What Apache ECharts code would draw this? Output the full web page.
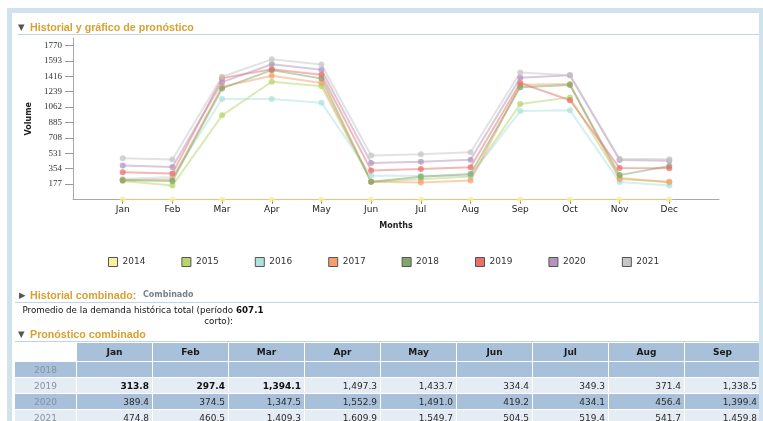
<!DOCTYPE html>
<html><head><meta charset="utf-8">
<script src="https://cdn.jsdelivr.net/npm/echarts@6/dist/echarts.min.js"></script>
<style>
html,body{margin:0;padding:0;width:763px;height:421px;overflow:hidden;background:#fff;font-family:'DejaVu Sans',Verdana,sans-serif;}
#frame{position:absolute;left:7px;top:8px;width:756px;height:420px;background:#cfe2ed;}
#panel{position:absolute;left:12px;top:13px;width:747px;height:408px;background:#fff;}
#chart{position:absolute;left:0;top:0;width:763px;height:421px;z-index:2;}
.h{position:absolute;font-family:'Liberation Sans',Arial,sans-serif;font-weight:bold;font-size:10.7px;color:#d9a032;white-space:nowrap;z-index:3;line-height:12px;}
.tri{position:absolute;font-size:8.5px;color:#555;z-index:3;line-height:10px;}
.rule{position:absolute;height:1px;background:#bfd5e7;z-index:3;}
.sub{position:absolute;font-size:8px;font-weight:bold;color:#75818d;white-space:nowrap;z-index:3;line-height:10px;}
.txt{position:absolute;font-size:8.7px;color:#111;white-space:nowrap;z-index:3;line-height:11px;text-align:right;}
#tblwrap{position:absolute;left:12px;top:342px;width:747px;height:79px;overflow:hidden;z-index:3;}
#tbl{border-collapse:separate;border-spacing:1px;table-layout:fixed;margin-left:2px;width:746px;font-size:9px;}
#tbl th,#tbl td{padding:0 3px;overflow:hidden;white-space:nowrap;}
#tbl th{height:18px;background:#a8c0d9;color:#1a1a1a;font-weight:bold;text-align:center;}
#tbl th.blank{background:#fff;}
#tbl td{height:15px;text-align:right;color:#2a2a2a;}
#tbl td.yr{text-align:center;color:#8593a2;}
#tbl tr.dark td{background:#a8c0d9;}
#tbl tr.light td{background:#e6ecf4;}
#tbl td.b{font-weight:bold;color:#111;}
</style>
</head><body>
<div id="frame"></div>
<div id="panel"></div>

<div class="tri" style="left:18px;top:22px;">▼</div>
<div class="h" style="left:30px;top:21px;">Historial y gráfico de pronóstico</div>
<div class="rule" style="left:18px;top:34px;width:741px;"></div>

<div class="tri" style="left:19px;top:290px;">▶</div>
<div class="h" style="left:30px;top:289px;">Historial combinado:</div>
<div class="sub" style="left:143px;top:290px;">Combinado</div>
<div class="rule" style="left:15px;top:302px;width:744px;"></div>
<div class="txt" style="right:530px;top:305px;">Promedio de la demanda histórica total (período<br>corto):</div>
<div class="txt" style="left:236px;top:305px;font-weight:bold;text-align:left;">607.1</div>

<div class="tri" style="left:18px;top:329px;">▼</div>
<div class="h" style="left:30px;top:328px;">Pronóstico combinado</div>
<div class="rule" style="left:15px;top:341px;width:744px;"></div>

<div id="tblwrap"><table id="tbl"></table></div>
<div id="chart"></div>

<script>
// ---- data ----
const months = ['Jan','Feb','Mar','Apr','May','Jun','Jul','Aug','Sep','Oct','Nov','Dec'];
const years = ['2014','2015','2016','2017','2018','2019','2020','2021'];
const colors = ['#f7f09c','#b7d66c','#aee0e0','#f5a06c','#7fa86a','#e8706a','#b494bc','#c6c6c6'];
const s2014 = [0,0,0,0,0,0,0,0,0,0,0,0];
const s2015 = [213,160,967,1353,1300,205,233,263,1096,1173,250,194];
const s2016 = [236,259,1154,1154,1112,274,274,274,1016,1024,202,160];
const s2017 = [225,233,1295,1421,1337,205,194,219,1318,1326,236,205];
const s2018 = [221,213,1276,1486,1391,205,260,292,1288,1314,280,385];
const s2019 = [313.8,297.4,1394.1,1497.3,1433.7,334.4,349.3,371.4,1338.5,1140,362,359];
const s2020 = [389.4,374.5,1347.5,1552.9,1491.0,419.2,434.1,456.4,1399.4,1426,454,446];
const s2021 = [474.8,460.5,1409.3,1609.9,1549.7,504.5,519.4,541.7,1459.8,1426,469,462];
const yTicks = [177,354,531,708,885,1062,1239,1416,1593,1770];

// table (Pronóstico combinado)
const tableCols = ['Jan','Feb','Mar','Apr','May','Jun','Jul','Aug','Sep'];
const tableYears = ['2018','2019','2020','2021'];
const t2018 = [];
const t2019 = [313.8,297.4,1394.1,1497.3,1433.7,334.4,349.3,371.4,1338.5];
const t2020 = [389.4,374.5,1347.5,1552.9,1491.0,419.2,434.1,456.4,1399.4];
const t2021 = [474.8,460.5,1409.3,1609.9,1549.7,504.5,519.4,541.7,1459.8];
const t2019Bold = 3;

// ---- table ----
(function(){
  const fmt = v => v.toLocaleString('en-US',{minimumFractionDigits:1,maximumFractionDigits:1});
  const rows = [t2018,t2019,t2020,t2021];
  let h = '<colgroup><col style="width:61px">' + tableCols.map(()=>'<col style="width:75px">').join('') + '</colgroup>';
  h += '<tr><th class="blank"></th>' + tableCols.map(c=>'<th>'+c+'</th>').join('') + '</tr>';
  rows.forEach((r,i)=>{
    h += '<tr class="'+(i%2===0?'dark':'light')+'"><td class="yr">'+tableYears[i]+'</td>';
    tableCols.forEach((c,j)=>{
      const v = r[j];
      const bold = (tableYears[i]==='2019' && j<t2019Bold) ? ' class="b"' : '';
      h += '<td'+bold+'>'+(v===undefined?'':fmt(v))+'</td>';
    });
    h += '</tr>';
  });
  document.getElementById('tbl').innerHTML = h;
})();

// ---- chart ----
const seriesData = [s2014,s2015,s2016,s2017,s2018,s2019,s2020,s2021];
const xCats = [''].concat(months).concat(['']);
const chart = echarts.init(document.getElementById('chart'), null, {renderer:'canvas'});
chart.setOption({
  animation:false,
  backgroundColor:'transparent',
  grid:{left:73, right:44, top:38, bottom:221.5, containLabel:false},
  legend:{
    top:252, left:103, itemWidth:9, itemHeight:9, itemGap:36, icon:'rect',
    textStyle:{fontSize:9, color:'#333', fontFamily:'DejaVu Sans'},
    itemStyle:{borderColor:'#555', borderWidth:1, opacity:1},
    data: years
  },
  xAxis:{
    type:'category', data:xCats, boundaryGap:false,
    axisLine:{show:true, lineStyle:{color:'#a8a8a8', width:1}},
    axisTick:{show:true, interval:(i)=> i>0 && i<13, length:4, lineStyle:{color:'#555'}},
    axisLabel:{interval:0, fontSize:9, color:'#222', margin:6, fontFamily:'DejaVu Sans'},
    splitLine:{show:false},
    name:'Months', nameLocation:'middle', nameGap:22,
    nameTextStyle:{fontWeight:'bold', fontSize:8, color:'#222', fontFamily:'DejaVu Sans'}
  },
  yAxis:{
    type:'value', min:0, max:1855, interval:177,
    axisLine:{show:true, lineStyle:{color:'#a8a8a8', width:1}},
    axisTick:{show:true, length:8, customValues:yTicks, lineStyle:{color:'#999'}},
    axisLabel:{customValues:yTicks, formatter:(v)=>String(v), fontSize:9, color:'#333', margin:11, fontFamily:'Liberation Serif'},
    splitLine:{show:false},
    name:'Volume', nameLocation:'middle', nameGap:40, nameRotate:90,
    nameTextStyle:{fontWeight:'bold', fontSize:8, color:'#222', fontFamily:'DejaVu Sans'}
  },
  series: years.map((y,i)=>({
    name:y, type:'line',
    data: seriesData[i].map((v,j)=>[months[j], v]),
    symbol:'circle', symbolSize:6, showSymbol:true,
    lineStyle:{width:2, color:colors[i], opacity:0.5},
    itemStyle:{color:colors[i], opacity:0.75},
    emphasis:{disabled:true},
    z: 3
  }))
});
</script>
</body></html>
